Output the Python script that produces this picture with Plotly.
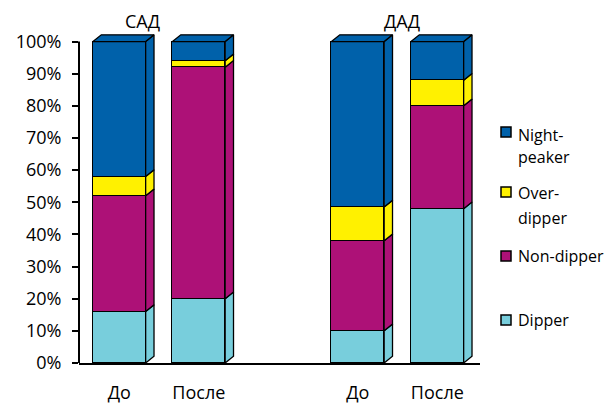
import plotly.graph_objects as go

# Data: share of each nocturnal BP profile, % of patients
positions = [0, 1, 3, 4]
period_labels = ["До", "После", "До", "После"]
group_labels = ["САД", "ДАД"]
group_label_px = [142, 402]

series_names = ["Dipper", "Non-dipper", "Over-dipper", "Night-peaker"]
legend_lines = [["Dipper"], ["Non-dipper"], ["Over-", "dipper"], ["Night-", "peaker"]]
dipper = [16, 20, 10, 48]
non_dipper = [36, 72, 28, 32]
over_dipper = [6, 2, 10.5, 8]
night_peaker = [42, 6, 51.5, 12]
series_values = [dipper, non_dipper, over_dipper, night_peaker]
colors = ["#78CEDC", "#AD1177", "#FFF100", "#0061AA"]

W, H = 611, 407
ML, MR, MT, MB = 79, 131, 30, 44
X_RANGE = [-0.507, 4.537]
Y_RANGE = [0, 103.6]
BAR_W = 0.663
DX, DY = 0.105, 2.1   # depth of the pseudo-3D side/top faces (data units)
FONT = "Open Sans"

plot_w = W - ML - MR
plot_h = H - MT - MB


def paper_x(px):
    return (px - ML) / plot_w


def paper_y(py):
    return (H - MB - py) / plot_h


fig = go.Figure()

# Front faces of the stacked bars
for name, vals, col in zip(series_names, series_values, colors):
    fig.add_trace(go.Bar(
        x=positions, y=vals, name=name, width=BAR_W,
        marker=dict(color=col, line=dict(color="black", width=1.5)),
        showlegend=False, hoverinfo="skip",
    ))

# Side faces (one per segment) and top face, derived from the cumulative stack
for i, pos in enumerate(positions):
    xr = pos + BAR_W / 2
    xl = pos - BAR_W / 2
    base = 0.0
    for vals, col in zip(series_values, colors):
        y0, y1 = base, base + vals[i]
        base = y1
        fig.add_trace(go.Scatter(
            x=[xr, xr + DX, xr + DX, xr, xr],
            y=[y0, y0 + DY, y1 + DY, y1, y0],
            mode="lines", fill="toself", fillcolor=col,
            line=dict(color="black", width=1.3),
            showlegend=False, hoverinfo="skip",
        ))
    fig.add_trace(go.Scatter(
        x=[xl, xl + DX, xr + DX, xr, xl],
        y=[base, base + DY, base + DY, base, base],
        mode="lines", fill="toself", fillcolor=colors[-1],
        line=dict(color="black", width=1.3),
        showlegend=False, hoverinfo="skip",
    ))

shapes = [
    # y axis line, only up to 100 %
    dict(type="line", xref="paper", yref="y", x0=0, x1=0, y0=0, y1=100,
         line=dict(color="black", width=2)),
]
annotations = []

# Group titles
for txt, px in zip(group_labels, group_label_px):
    annotations.append(dict(
        text=txt, xref="paper", yref="paper", x=paper_x(px), y=paper_y(21),
        xanchor="center", yanchor="middle", showarrow=False,
        font=dict(family=FONT, size=18, color="black"),
    ))

# Legend, top to bottom: Night-peaker, Over-dipper, Non-dipper, Dipper
legend_square_py = [320, 256, 192, 132]
legend_text_py = [[320], [256], [193, 218], [135, 157]]
for lines, col, sq_py, txt_py in zip(legend_lines, colors, legend_square_py, legend_text_py):
    shapes.append(dict(
        type="rect", xref="paper", yref="paper",
        x0=paper_x(501), x1=paper_x(511), y0=paper_y(sq_py + 5), y1=paper_y(sq_py - 5),
        fillcolor=col, line=dict(color="black", width=1.5),
    ))
    for line_txt, py in zip(lines, txt_py):
        annotations.append(dict(
            text=line_txt, xref="paper", yref="paper", x=paper_x(516), y=paper_y(py),
            xanchor="left", yanchor="middle", showarrow=False,
            font=dict(family=FONT, size=16, color="black"),
        ))

fig.update_layout(
    width=W, height=H, autosize=False,
    margin=dict(l=ML, r=MR, t=MT, b=MB, pad=0, autoexpand=False),
    paper_bgcolor="white", plot_bgcolor="white",
    barmode="stack", bargap=0,
    font=dict(family=FONT, size=18, color="black"),
    shapes=shapes, annotations=annotations,
    xaxis=dict(
        range=X_RANGE, tickvals=positions, ticktext=period_labels,
        showline=True, linecolor="black", linewidth=2,
        ticks="outside", ticklen=12, tickcolor="rgba(0,0,0,0)",
        showgrid=False, zeroline=False, fixedrange=True, automargin=False,
        tickfont=dict(family=FONT, size=18, color="black"),
    ),
    yaxis=dict(
        range=Y_RANGE, tickvals=list(range(0, 101, 10)),
        ticktext=[f"{v}%" for v in range(0, 101, 10)],
        showline=False, ticks="outside", ticklen=6, tickwidth=1.5, tickcolor="black",
        ticklabelstandoff=7,
        showgrid=False, zeroline=False, fixedrange=True, automargin=False,
        tickfont=dict(family=FONT, size=18, color="black"),
    ),
    showlegend=False,
)

fig.write_html("out.html")
